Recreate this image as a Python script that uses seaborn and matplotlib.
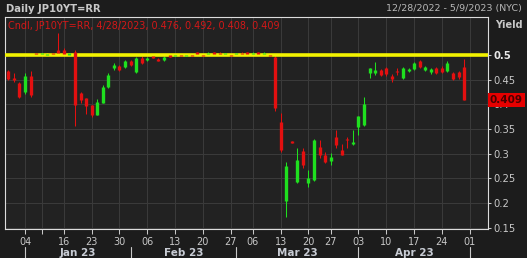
import matplotlib
matplotlib.use("Agg")
import matplotlib.pyplot as plt
import numpy as np
import pandas as pd
import seaborn as sns
from matplotlib.transforms import blended_transform_factory

# ---------------- data ----------------
trading_days = [
    "2022-12-28", "2022-12-29", "2022-12-30",
    "2023-01-04", "2023-01-05", "2023-01-06", "2023-01-10", "2023-01-11", "2023-01-12", "2023-01-13",
    "2023-01-16", "2023-01-17", "2023-01-18", "2023-01-19", "2023-01-20",
    "2023-01-23", "2023-01-24", "2023-01-25", "2023-01-26", "2023-01-27",
    "2023-01-30", "2023-01-31", "2023-02-01", "2023-02-02", "2023-02-03",
    "2023-02-06", "2023-02-07", "2023-02-08", "2023-02-09", "2023-02-10",
    "2023-02-13", "2023-02-14", "2023-02-15", "2023-02-16", "2023-02-17",
    "2023-02-20", "2023-02-21", "2023-02-22", "2023-02-23", "2023-02-24",
    "2023-02-27", "2023-03-01", "2023-03-02", "2023-03-03",
    "2023-03-06", "2023-03-07", "2023-03-08", "2023-03-09", "2023-03-10",
    "2023-03-13", "2023-03-14", "2023-03-15", "2023-03-16", "2023-03-17",
    "2023-03-20", "2023-03-22", "2023-03-23", "2023-03-24",
    "2023-03-27", "2023-03-28", "2023-03-29", "2023-03-30", "2023-03-31",
    "2023-04-03", "2023-04-04", "2023-04-05", "2023-04-06", "2023-04-07",
    "2023-04-10", "2023-04-11", "2023-04-12", "2023-04-13", "2023-04-14",
    "2023-04-17", "2023-04-18", "2023-04-19", "2023-04-20", "2023-04-21",
    "2023-04-24", "2023-04-25", "2023-04-26", "2023-04-27", "2023-04-28",
]
future_days = ["2023-05-01", "2023-05-02"]

opens = [0.468, 0.453, 0.443, 0.425, 0.457, 0.503, 0.501, 0.500, 0.503, 0.510,
         0.510, 0.500, 0.506, 0.423, 0.413, 0.399, 0.378, 0.403, 0.435, 0.474,
         0.478, 0.476, 0.488, 0.466, 0.494, 0.490, 0.497, 0.492, 0.490, 0.500,
         0.499, 0.500, 0.499, 0.500, 0.505, 0.500, 0.501, 0.505, 0.503, 0.502,
         0.500, 0.501, 0.503, 0.505, 0.501, 0.505, 0.501, 0.500, 0.496, 0.364,
         0.204, 0.325, 0.242, 0.305, 0.240, 0.246, 0.313, 0.297, 0.285, 0.334,
         0.307, 0.330, 0.319, 0.354, 0.358, 0.463, 0.463, 0.470, 0.474, 0.457,
         0.468, 0.453, 0.468, 0.472, 0.488, 0.470, 0.466, 0.474, 0.474, 0.468,
         0.463, 0.466, 0.476]
highs = [0.470, 0.463, 0.445, 0.463, 0.468, 0.504, 0.504, 0.503, 0.504, 0.545,
         0.514, 0.504, 0.510, 0.425, 0.413, 0.399, 0.410, 0.440, 0.464, 0.484,
         0.480, 0.490, 0.490, 0.495, 0.498, 0.496, 0.498, 0.493, 0.497, 0.501,
         0.500, 0.501, 0.500, 0.501, 0.506, 0.501, 0.506, 0.506, 0.506, 0.504,
         0.501, 0.504, 0.507, 0.506, 0.505, 0.506, 0.505, 0.501, 0.500, 0.382,
         0.283, 0.325, 0.311, 0.311, 0.267, 0.330, 0.328, 0.303, 0.301, 0.348,
         0.319, 0.334, 0.348, 0.376, 0.415, 0.474, 0.486, 0.472, 0.476, 0.461,
         0.474, 0.476, 0.474, 0.486, 0.490, 0.478, 0.474, 0.476, 0.478, 0.488,
         0.466, 0.468, 0.492]
lows = [0.449, 0.445, 0.413, 0.421, 0.415, 0.500, 0.500, 0.499, 0.500, 0.500,
        0.500, 0.499, 0.356, 0.403, 0.380, 0.374, 0.378, 0.403, 0.433, 0.470,
        0.467, 0.474, 0.478, 0.464, 0.482, 0.488, 0.493, 0.487, 0.488, 0.495,
        0.497, 0.498, 0.498, 0.498, 0.500, 0.498, 0.500, 0.500, 0.501, 0.500,
        0.498, 0.500, 0.500, 0.500, 0.500, 0.500, 0.500, 0.498, 0.386, 0.303,
        0.171, 0.321, 0.240, 0.271, 0.232, 0.244, 0.291, 0.281, 0.277, 0.311,
        0.297, 0.311, 0.317, 0.338, 0.356, 0.453, 0.459, 0.457, 0.457, 0.445,
        0.459, 0.451, 0.466, 0.470, 0.474, 0.468, 0.462, 0.461, 0.464, 0.466,
        0.449, 0.451, 0.408]
closes = [0.451, 0.450, 0.415, 0.457, 0.419, 0.501, 0.503, 0.502, 0.501, 0.503,
          0.502, 0.503, 0.398, 0.409, 0.397, 0.378, 0.405, 0.435, 0.459, 0.480,
          0.470, 0.488, 0.480, 0.494, 0.484, 0.494, 0.494, 0.488, 0.496, 0.496,
          0.500, 0.499, 0.500, 0.499, 0.502, 0.499, 0.504, 0.502, 0.502, 0.503,
          0.499, 0.503, 0.502, 0.502, 0.504, 0.502, 0.504, 0.499, 0.392, 0.307,
          0.275, 0.322, 0.287, 0.277, 0.250, 0.328, 0.297, 0.283, 0.293, 0.317,
          0.297, 0.327, 0.323, 0.376, 0.401, 0.474, 0.470, 0.459, 0.461, 0.451,
          0.466, 0.474, 0.472, 0.484, 0.476, 0.476, 0.472, 0.463, 0.466, 0.484,
          0.451, 0.455, 0.409]

week_tick_days = ["2023-01-04", "2023-01-10", "2023-01-16", "2023-01-23", "2023-01-30",
                  "2023-02-06", "2023-02-13", "2023-02-20", "2023-02-27",
                  "2023-03-06", "2023-03-13", "2023-03-20", "2023-03-27",
                  "2023-04-03", "2023-04-10", "2023-04-17", "2023-04-24", "2023-05-01"]
week_tick_labels = ["04", "", "16", "23", "30", "06", "13", "20", "27",
                    "06", "13", "20", "27", "03", "10", "17", "24", "01"]
month_start_days = ["2023-01-04", "2023-02-01", "2023-03-01", "2023-04-03", "2023-05-01"]
month_labels = ["Jan 23", "Feb 23", "Mar 23", "Apr 23"]
y_ticks = [0.15, 0.2, 0.25, 0.3, 0.35, 0.4, 0.45, 0.5]
y_tick_labels = ["0.15", "0.2", "0.25", "0.3", "0.35", "0.4", "0.45", "0.5"]
cap_level = 0.5
last_close = 0.409
title_text = "Daily JP10YT=RR"
range_text = "12/28/2022 - 5/9/2023 (NYC)"
axis_title = "Yield"
legend_text = "Cndl, JP10YT=RR, 4/28/2023, 0.476, 0.492, 0.408, 0.409"

# ---------------- prep ----------------
calendar = trading_days + future_days
pos = {d: i for i, d in enumerate(calendar)}

df = pd.DataFrame({"day": trading_days, "open": opens, "high": highs,
                   "low": lows, "close": closes})
df["pos"] = df["day"].map(pos)
df["dir"] = np.where(df["close"] >= df["open"], "up", "down")

wick = pd.concat([df.assign(val=df["high"]), df.assign(val=df["low"])])
top = np.maximum(df["open"], df["close"])
bot = np.minimum(df["open"], df["close"])
mid = (top + bot) / 2
min_h = 0.0018
top = np.maximum(top, mid + min_h / 2)
bot = np.minimum(bot, mid - min_h / 2)
body = pd.concat([df.assign(val=top), df.assign(val=bot)])

palette = {"up": "#1fe01f", "down": "#e31010"}

# ---------------- style ----------------
W, H = 527, 258
sns.set_theme(style="dark", rc={
    "figure.facecolor": "#1c1c1c",
    "axes.facecolor": "#222222",
    "axes.edgecolor": "#dcdcdc",
    "grid.color": "#3a3a3a",
    "text.color": "#c8c8c8",
    "xtick.color": "#c8c8c8",
    "ytick.color": "#c8c8c8",
})
plt.rcParams["font.family"] = ["DejaVu Sans"]

fig = plt.figure(figsize=(W / 100, H / 100), dpi=100)
ax = fig.add_axes([5 / W, 29 / H, 483 / W, 212 / H])

ax.grid(True, color="#3a3a3a", lw=0.75)
ax.set_axisbelow(True)

sns.lineplot(data=wick, x="pos", y="val", hue="dir", units="pos", estimator=None,
             palette=palette, lw=0.75, legend=False, sort=False, ax=ax,
             solid_capstyle="butt", zorder=3)
ax.axhline(cap_level, color="#f2f200", lw=2.6, zorder=4)
sns.lineplot(data=body, x="pos", y="val", hue="dir", units="pos", estimator=None,
             palette=palette, lw=2.4, legend=False, sort=False, ax=ax,
             solid_capstyle="butt", zorder=5)

ax.set_xlim(-0.6, 86.3)
ax.set_ylim(0.147, 0.577)
ax.set_xlabel("")
ax.set_ylabel("")

# x ticks
ax.set_xticks([pos[d] for d in week_tick_days])
ax.set_xticklabels(week_tick_labels, fontsize=7, color="#c8c8c8")
ax.tick_params(axis="x", direction="out", length=3.5, width=0.75, pad=2,
               colors="#c8c8c8", bottom=True)

# y ticks on the right
ax.yaxis.tick_right()
ax.set_yticks(y_ticks)
ax.set_yticklabels(y_tick_labels, fontsize=7.2)
ax.tick_params(axis="y", direction="out", length=2.5, width=0.75, pad=1.5,
               colors="#c8c8c8", right=True, left=False)
for lbl in ax.get_yticklabels():
    if lbl.get_text() == "0.5":
        lbl.set_fontweight("bold")
        lbl.set_color("#e8e8e8")

for s in ax.spines.values():
    s.set_visible(True)
    s.set_color("#dcdcdc")
    s.set_linewidth(0.8)

# month labels and separators
tr = blended_transform_factory(ax.transData, ax.transAxes)
for i, lab in enumerate(month_labels):
    x0 = pos[month_start_days[i]]
    x1 = pos[month_start_days[i + 1]]
    ax.text((x0 + x1) / 2, -0.113, lab, transform=tr, ha="center", va="center",
            fontsize=7.5, fontweight="bold", color="#c8ccd4", clip_on=False)
for d in month_start_days:
    ax.plot([pos[d], pos[d]], [-0.085, -0.14], transform=tr, color="#c8c8c8",
            lw=0.8, clip_on=False)

# last price box
trr = blended_transform_factory(ax.transAxes, ax.transData)
ax.text(1.004, last_close, f"{last_close:.3f}", transform=trr, ha="left", va="center",
        fontsize=7.5, fontweight="bold", color="#4a0000", zorder=10, clip_on=False,
        bbox=dict(boxstyle="square,pad=0.18", fc="#e60000", ec="none"))

# header texts
fig.text(6 / W, 1 - 9 / H, title_text, ha="left", va="center", fontsize=7.2,
         fontweight="bold", color="#c8c8c8")
fig.text(522 / W, 1 - 9 / H, range_text, ha="right", va="center", fontsize=6.8,
         color="#b8b8b8")
fig.text(509 / W, 1 - 25 / H, axis_title, ha="center", va="center", fontsize=7,
         fontweight="bold", color="#c8c8c8")
fig.text(8 / W, 1 - 26 / H, legend_text, ha="left", va="center", fontsize=6.9,
         color="#d41818")

fig.savefig("out.png", dpi=100, facecolor=fig.get_facecolor())
